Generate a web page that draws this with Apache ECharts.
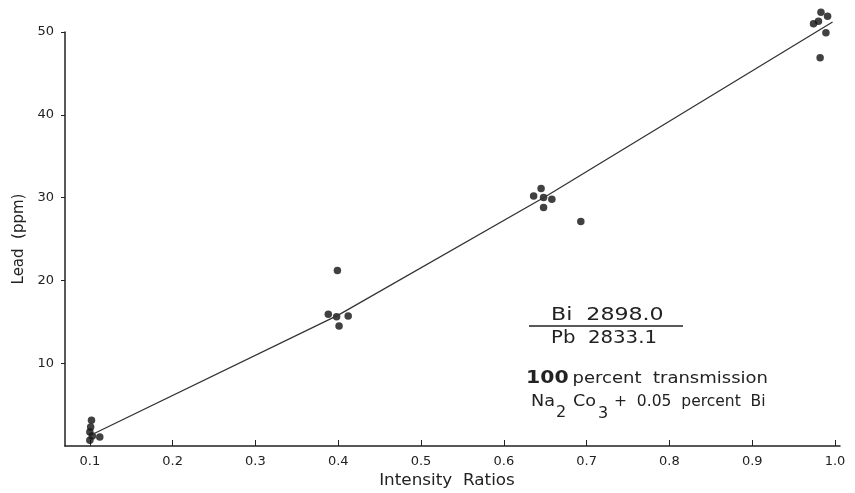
<!DOCTYPE html>
<html>
<head>
<meta charset="utf-8">
<script src="https://cdn.jsdelivr.net/npm/echarts@6/dist/echarts.min.js"></script>
<style>html,body{margin:0;padding:0;background:#fff}#c{width:855px;height:493px}</style>
</head>
<body>
<div id="c"></div>
<script>
// Tick labels
const xTicks = [0.1, 0.2, 0.3, 0.4, 0.5, 0.6, 0.7, 0.8, 0.9, 1.0];
const xTickLabels = ['0.1', '0.2', '0.3', '0.4', '0.5', '0.6', '0.7', '0.8', '0.9', '1.0'];
const yTicks = [10, 20, 30, 40, 50];
// Measured points: intensity ratio, lead (ppm)
const ratios = [0.102, 0.101, 0.100, 0.103, 0.100, 0.112,
                0.388, 0.398, 0.401, 0.412, 0.399,
                0.636, 0.645, 0.648, 0.658, 0.648, 0.693,
                0.983, 0.991, 0.974, 0.980, 0.989, 0.982];
const lead =   [3.1, 2.3, 1.7, 1.2, 0.7, 1.1,
                15.9, 15.6, 14.5, 15.7, 21.2,
                30.2, 31.1, 30.0, 29.8, 28.8, 27.1,
                52.4, 51.9, 51.0, 51.3, 49.9, 46.9];
// Calibration line
const lineX = [0.104, 0.4, 0.65, 0.997];
const lineY = [1.45, 15.8, 30.1, 51.2];

const ink = '#222';
const font = 'DejaVu Sans';
const chart = echarts.init(document.getElementById('c'), null, {renderer: 'canvas'});
chart.setOption({
  backgroundColor: '#ffffff',
  animation: false,
  grid: {left: 65, right: 15, top: 32, bottom: 47},
  xAxis: {
    type: 'value', min: 0.07, max: 1.006,
    axisLine: {show: true, lineStyle: {color: ink, width: 1.5}},
    axisTick: {show: true, inside: true, length: 6, customValues: xTicks, lineStyle: {color: ink, width: 1}},
    axisLabel: {customValues: xTicks, formatter: v => xTickLabels[xTicks.findIndex(t => Math.abs(t - v) < 1e-6)],
                fontFamily: font, fontSize: 13, color: ink, margin: 9},
    splitLine: {show: false}
  },
  yAxis: {
    type: 'value', min: 0, max: 50, interval: 10,
    name: 'Lead  (ppm)', nameLocation: 'middle', nameGap: 38, nameRotate: 90,
    nameTextStyle: {fontFamily: font, fontSize: 15, color: ink},
    axisLine: {show: true, lineStyle: {color: ink, width: 1.5}},
    axisTick: {show: true, inside: false, length: 4, customValues: yTicks, lineStyle: {color: ink, width: 1}},
    axisLabel: {customValues: yTicks, fontFamily: font, fontSize: 13, color: ink, margin: 11},
    splitLine: {show: false}
  },
  series: [
    {
      type: 'line', data: lineX.map((x, i) => [x, lineY[i]]),
      symbol: 'none', clip: false, smooth: false,
      lineStyle: {color: '#333', width: 1.3}
    },
    {
      type: 'scatter', data: ratios.map((x, i) => [x, lead[i]]),
      symbol: 'circle', symbolSize: 7.5, clip: false,
      itemStyle: {color: '#111'}
    }
  ],
  graphic: [
    {type: 'text', x: 447, y: 481, scaleX: 1.12, style: {text: 'Intensity  Ratios', font: '15px "DejaVu Sans"', fill: ink, textAlign: 'center', textVerticalAlign: 'middle'}},
    {type: 'text', x: 551, y: 316, scaleX: 1.3, style: {text: 'Bi  2898.0', font: '17px "DejaVu Sans"', fill: ink, textVerticalAlign: 'middle'}},
    {type: 'line', shape: {x1: 529, y1: 326, x2: 683, y2: 326}, style: {stroke: ink, lineWidth: 1.5}},
    {type: 'text', x: 551, y: 339, scaleX: 1.16, style: {text: 'Pb  2833.1', font: '17px "DejaVu Sans"', fill: ink, textVerticalAlign: 'middle'}},
    {type: 'text', x: 526, y: 379, scaleX: 1.2, style: {
      rich: {b: {fontFamily: font, fontSize: 17, fontWeight: 'bold', fill: ink}, n: {fontFamily: font, fontSize: 15, fill: ink}},
      text: '{b|100} {n|percent  transmission}', textVerticalAlign: 'middle'}},
    {type: 'text', x: 531, y: 402, scaleX: 1.1, style: {text: 'Na', font: '16px "DejaVu Sans"', fill: ink, textVerticalAlign: 'middle'}},
    {type: 'text', x: 556, y: 413, style: {text: '2', font: '16px "DejaVu Sans"', fill: ink, textVerticalAlign: 'middle'}},
    {type: 'text', x: 573, y: 402, scaleX: 1.1, style: {text: 'Co', font: '16px "DejaVu Sans"', fill: ink, textVerticalAlign: 'middle'}},
    {type: 'text', x: 598, y: 414, style: {text: '3', font: '16px "DejaVu Sans"', fill: ink, textVerticalAlign: 'middle'}},
    {type: 'text', x: 614, y: 402, scaleX: 0.97, style: {text: '+  0.05  percent  Bi', font: '16px "DejaVu Sans"', fill: ink, textVerticalAlign: 'middle'}}
  ]
});
</script>
</body>
</html>
